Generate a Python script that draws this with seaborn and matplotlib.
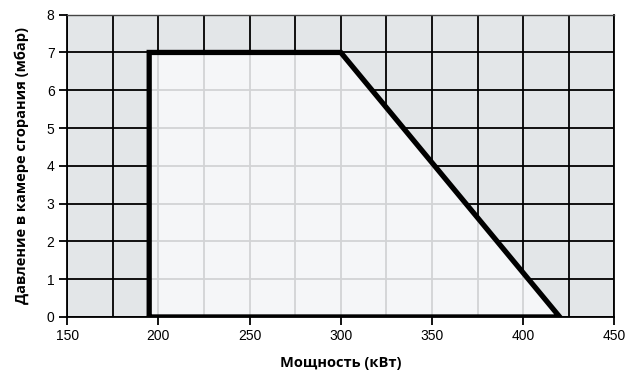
import numpy as np
import pandas as pd
import matplotlib.pyplot as plt
import seaborn as sns
from matplotlib.patches import Polygon

# рабочее поле горелки: мощность (кВт) / давление (мбар)
power = [195, 195, 300, 420, 195]
pressure = [0, 7, 7, 0, 0]
x_ticks = [150, 200, 250, 300, 350, 400, 450]
y_ticks = [0, 1, 2, 3, 4, 5, 6, 7, 8]

df = pd.DataFrame({"power": power, "pressure": pressure})

sns.set_style("ticks")
plt.rcParams['font.family'] = ['Liberation Sans', 'DejaVu Sans']
plt.rcParams['text.color'] = 'black'
plt.rcParams['axes.labelcolor'] = 'black'
plt.rcParams['xtick.color'] = 'black'
plt.rcParams['ytick.color'] = 'black'

fig = plt.figure(figsize=(6.27, 3.76), dpi=100)
ax = fig.add_axes([0.107, 0.157, 0.873, 0.804])
ax.set_facecolor('#e3e6e8')

ax.set_xlim(150, 450)
ax.set_ylim(0, 8)

# черная сетка снаружи
grid_x = np.arange(150, 451, 25)
grid_y = np.arange(0, 9, 1)
for gx in grid_x:
    ax.axvline(gx, color='black', lw=1.3, zorder=1)
for gy in grid_y:
    ax.axhline(gy, color='black', lw=1.3, zorder=1)

# светлая заливка поля
poly = Polygon(np.column_stack([power, pressure]), closed=True,
               facecolor='#f5f6f8', edgecolor='none', zorder=2)
ax.add_patch(poly)

# светлая сетка внутри поля
for gx in grid_x:
    ln = ax.axvline(gx, color='#d2d3d5', lw=1.3, zorder=3)
    ln.set_clip_path(poly)
for gy in grid_y:
    ln = ax.axhline(gy, color='#d2d3d5', lw=1.3, zorder=3)
    ln.set_clip_path(poly)

sns.lineplot(data=df, x="power", y="pressure", sort=False, estimator=None,
             color='black', lw=3.8, ax=ax, zorder=5, solid_joinstyle='miter')

ax.set_xticks(x_ticks)
ax.set_yticks(y_ticks)
ax.tick_params(axis='both', direction='out', length=6, width=1.3,
               color='black', labelcolor='black', labelsize=10, pad=3)

for side in ['left', 'bottom', 'right']:
    ax.spines[side].set_visible(True)
    ax.spines[side].set_color('black')
    ax.spines[side].set_linewidth(1.3)
ax.spines['top'].set_color('#444444')
ax.spines['top'].set_linewidth(1.0)

ax.set_xlabel('Мощность (кВт)', fontsize=10.5, fontweight='bold', color='black',
              family=['Open Sans', 'DejaVu Sans'], labelpad=9)
ax.set_ylabel('Давление в камере сгорания (мбар)', fontsize=10.5, color='black',
              fontweight='bold', family=['Open Sans', 'DejaVu Sans'], labelpad=13)

fig.savefig('out.png', dpi=100)
